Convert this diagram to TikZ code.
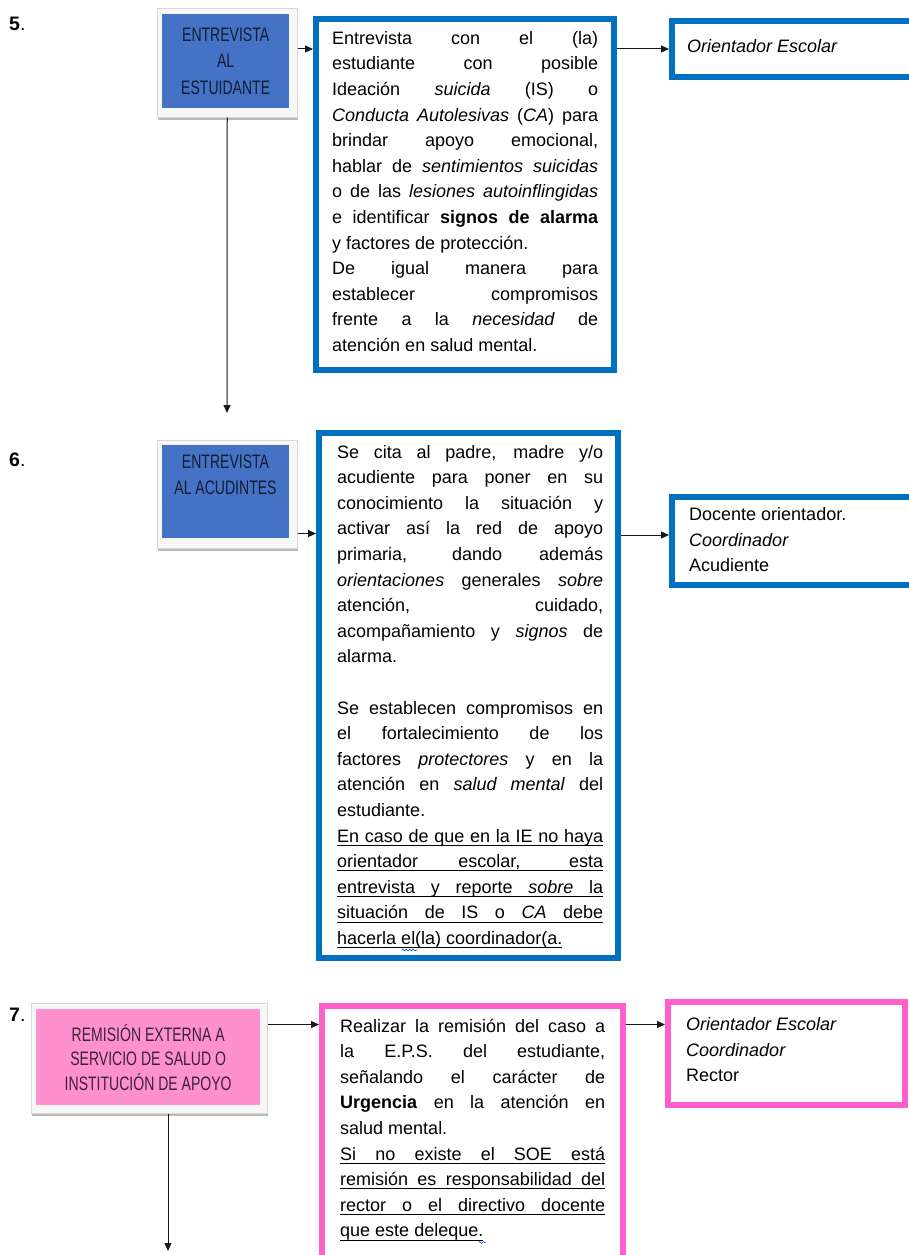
\documentclass[tikz,border=0pt]{standalone}
\usepackage{fontspec}
\setmainfont{Liberation Sans}
\newfontfamily\condfont[FakeStretch=0.72]{Liberation Sans}
\usepackage{graphicx}
\usetikzlibrary{arrows.meta,shadows,calc,decorations.pathmorphing}
\definecolor{bfill}{HTML}{4472C4}
\definecolor{bborder}{HTML}{0070C0}
\definecolor{btext}{HTML}{141C33}
\definecolor{pfill}{HTML}{FF90CE}
\definecolor{pborder}{HTML}{FF5FCA}
\definecolor{ptext}{HTML}{3A2434}
\definecolor{spell}{HTML}{2F5BE0}
\newlength\linew
\newcommand\sps{\spaceskip=.278em\relax\xspaceskip=\spaceskip}
% justified line
\newcommand\jl[1]{\setbox0\hbox{\sps #1}%
  \ifdim\wd0>\linew \hbox{\resizebox{\linew}{\height}{\box0}\strut}%
  \else\hbox to\linew{\spaceskip=.278em plus 1fil\relax\xspaceskip=\spaceskip #1\strut}\fi}
% last (left aligned) line
\newcommand\lastl[1]{\hbox to\linew{\sps #1\strut\hfil}}
% underlined justified line
\newcommand\ujl[1]{\setbox0\hbox{\sps #1}%
  \ifdim\wd0>\linew \hbox{\rlap{\rule[-3.5pt]{\linew}{0.9pt}}\resizebox{\linew}{\height}{\box0}\strut}%
  \else\hbox to\linew{\rlap{\rule[-3.5pt]{\linew}{0.9pt}}\spaceskip=.278em plus 1fil\relax\xspaceskip=\spaceskip #1\strut}\fi}
% underlined last line
\newcommand\ull[1]{\setbox2\hbox{\sps #1}\hbox to\linew{\rlap{\rule[-3.5pt]{\wd2}{0.9pt}}\box2\strut\hfil}}
% spell-check squiggle
\newcommand\sq[1]{\setbox4\hbox{#1}\rlap{\smash{\tikz[baseline=0pt,x=1pt,y=1pt]\draw[spell,line width=.7pt,decorate,decoration={snake,amplitude=.9pt,segment length=3.5pt}] (0,-5.5) -- (\the\wd4+2pt,-5.5);}}\box4}
\begin{document}
\begin{tikzpicture}[x=1pt,y=-1pt,
  frame/.style={draw=gray!30, fill=gray!6, line width=0.5pt, inner sep=0pt, anchor=north west,
    drop shadow={shadow xshift=1.2pt, shadow yshift=-2.4pt, fill=gray!55, opacity=1}},
  bluein/.style={fill=bfill, inner sep=0pt, anchor=north west, text=btext,
    font=\condfont\fontsize{19.5}{26.5}\selectfont, align=center},
  pinkin/.style={fill=pfill, inner sep=0pt, anchor=north west, text=ptext,
    font=\condfont\fontsize{19.5}{24.5}\selectfont, align=center},
  bbox/.style={draw=bborder, line width=6pt, inner sep=0pt, outer sep=3pt, anchor=north west},
  pbox/.style={draw=pborder, line width=6pt, inner sep=0pt, outer sep=3pt, anchor=north west},
  txt/.style={inner sep=0pt, anchor=north west, font=\fontsize{18}{25.6}\selectfont},
  rtxt/.style={inner sep=0pt, anchor=north west, align=left, font=\fontsize{18}{25.6}\selectfont},
  num/.style={inner sep=0pt, anchor=west, font=\bfseries\fontsize{19.5}{22}\selectfont},
  arr/.style={-{Triangle[length=8pt,width=7pt]}, line width=1pt, black!90}]
\useasboundingbox (0,0) rectangle (909,1255);
\clip (0,0) rectangle (909,1255);
\fill[white] (0,0) rectangle (909,1255);

% ---------- 5 ----------
\node[num] (n5) at (9,24) {5\textmd{.}};
\node[frame, minimum width=140pt, minimum height=109pt] (b1) at (157,8) {};
\node[bluein, minimum width=127pt, minimum height=94pt] (b1in) at (162,14) {ENTREVISTA\\AL\\ESTUIDANTE};
\node[bbox, minimum width=298pt, minimum height=351pt] (t1) at (313,16) {};
\node[txt] (t1txt) at (332,26.1) {\vtop{\setlength\linew{266pt}\hsize=\linew
\jl{Entrevista con el (la)}
\jl{estudiante con posible}
\jl{Ideación \textit{suicida} (IS) o}
\jl{\textit{Conducta Autolesivas} (\textit{CA}) para}
\jl{brindar apoyo emocional,}
\jl{hablar de \textit{sentimientos suicidas}}
\jl{o de las \textit{lesiones autoinflingidas}}
\jl{e identificar \textbf{signos de alarma}}
\lastl{y factores de protección.}
\jl{De igual manera para}
\jl{establecer compromisos}
\jl{frente a la \textit{necesidad} de}
\lastl{atención en salud mental.}}};
\node[bbox, minimum width=300pt, minimum height=56pt] (r1) at (669,18) {};
\node[rtxt] (r1txt) at (687,34.5) {\textit{Orientador Escolar}\strut};

\draw[arr] (b1.east |- r1.west) -- (t1.west |- r1.west);
\draw[arr] (t1.east |- r1.west) -- (r1.west);
\coordinate (v1end) at (227,413);
\draw[arr] (b1.south) -- (v1end);

% ---------- 6 ----------
\node[num] (n6) at (9,460) {6\textmd{.}};
\node[frame, minimum width=140pt, minimum height=108pt] (b2) at (157,440) {};
\node[bluein, minimum width=127pt, minimum height=93pt] (b2in) at (162,445) {};
\node[inner sep=0pt, anchor=north, text=btext, font=\condfont\fontsize{19.5}{26}\selectfont, align=center] (b2lab) at (225.5,455) {ENTREVISTA\\AL ACUDINTES};
\node[bbox, minimum width=299pt, minimum height=525pt] (t2) at (316,430) {};
\node[txt] (t2txt) at (337,440) {\vtop{\setlength\linew{266pt}\hsize=\linew
\jl{Se cita al padre, madre y/o}
\jl{acudiente para poner en su}
\jl{conocimiento la situación y}
\jl{activar así la red de apoyo}
\jl{primaria, dando además}
\jl{\textit{orientaciones} generales \textit{sobre}}
\jl{atención, cuidado,}
\jl{acompañamiento y \textit{signos} de}
\lastl{alarma.}
\lastl{}
\jl{Se establecen compromisos en}
\jl{el fortalecimiento de los}
\jl{factores \textit{protectores} y en la}
\jl{atención en \textit{salud mental} del}
\lastl{estudiante.}
\ujl{En caso de que en la IE no haya}
\ujl{orientador escolar, esta}
\ujl{entrevista y reporte \textit{sobre} la}
\ujl{situación de IS o \textit{CA} debe}
\ull{hacerla \sq{el}(la) coordinador(a.}}};
\node[bbox, minimum width=300pt, minimum height=88pt] (r2) at (669,494) {};
\node[rtxt] (r2txt) at (689,502.5) {Docente orientador.\strut\\\textit{Coordinador}\strut\\Acudiente\strut};

\draw[arr] ([yshift=15pt]b2.south east) coordinate (a3s) -- (a3s -| t2.west);
\path (r2.west) ++(0,-6) coordinate (a4e);
\draw[arr] (a4e -| t2.east) -- (a4e);

% ---------- 7 ----------
\node[num] (n7) at (9,1015) {7\textmd{.}};
\node[frame, minimum width=236pt, minimum height=110pt] (p) at (31,1003) {};
\node[pinkin, minimum width=224pt, minimum height=96pt] (pin) at (36,1009) {REMISIÓN EXTERNA A\\SERVICIO DE SALUD O\\INSTITUCIÓN DE APOYO};
\node[pbox, minimum width=301pt, minimum height=400pt] (t3) at (319,1003) {};
\node[txt] (t3txt) at (340,1014) {\vtop{\setlength\linew{265pt}\hsize=\linew
\jl{Realizar la remisión del caso a}
\jl{la E.P.S. del estudiante,}
\jl{señalando el carácter de}
\jl{\textbf{Urgencia} en la atención en}
\lastl{salud mental.}
\ujl{Si no existe el SOE está}
\ujl{remisión es responsabilidad del}
\ujl{rector o el directivo docente}
\ull{que este deleque\sq{.}}}};
\node[pbox, minimum width=237pt, minimum height=103pt] (r3) at (665,999) {};
\node[rtxt] (r3txt) at (686,1012.5) {\textit{Orientador Escolar}\strut\\\textit{Coordinador}\strut\\Rector\strut};

\path (r3.west) ++(0,-29) coordinate (a6e);
\draw[arr] (a6e -| p.east) -- (a6e -| t3.west);
\draw[arr] (a6e -| t3.east) -- (a6e);
\coordinate (v2end) at (168,1251);
\draw[arr] (v2end |- p.south) -- (v2end);
\end{tikzpicture}
\end{document}
